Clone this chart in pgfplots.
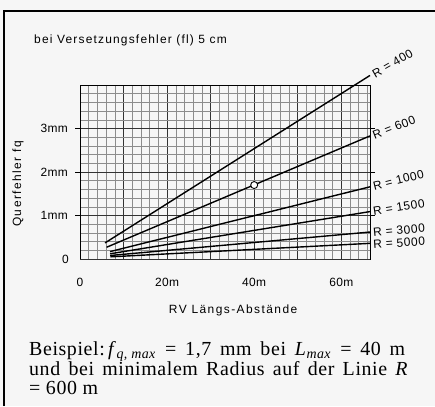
\documentclass[border=0pt]{standalone}
\usepackage{fontspec}
\setmainfont{Liberation Serif}
\newfontfamily\labT[LetterSpace=10]{Liberation Sans}
\newfontfamily\labX[LetterSpace=12]{Liberation Sans}
\newfontfamily\labK[LetterSpace=3]{Liberation Sans}
\newfontfamily\labR[LetterSpace=5]{Liberation Sans}
\newfontfamily\capf[LetterSpace=3]{Liberation Serif}
\usepackage{pgfplots}
\pgfplotsset{compat=1.18}
\definecolor{bg}{RGB}{246,246,246}
\newcommand{\titlefont}{\labT\fontsize{12}{14}\selectfont}
\newcommand{\axfont}{\labX\fontsize{12}{14}\selectfont}
\newcommand{\tkfont}{\labK\fontsize{12}{14}\selectfont}
\newcommand{\rfont}{\labR\fontsize{12}{14}\selectfont}
\newcommand{\capfont}{\capf\fontsize{20}{21}\selectfont}
\begin{document}
\begin{tikzpicture}[x=1bp,y=1bp]
\useasboundingbox (0,0) rectangle (435,406);
\fill[bg] (0,0) rectangle (435,406);
\draw[line width=1.2bp] (4,0) -- (4,395) -- (435,395);
\node[anchor=base west, font=\titlefont, inner sep=0pt] at (34,362.5) {bei Versetzungsfehler (fl) 5 cm};
\begin{axis}[
  at={(80bp,147bp)}, anchor=south west, scale only axis,
  width=290bp, height=174bp,
  xmin=0, xmax=66.6, ymin=0, ymax=4,
  clip=false,
  axis line style={line width=0.8bp},
  xtick={0,10,...,60}, xticklabels={0,,20m,,40m,,60m},
  ytick={1,2,3}, yticklabels={1mm,2mm,3mm},
  extra y ticks={0}, extra y tick labels={0},
  extra y tick style={major tick length=0pt, yticklabel style={xshift=-4bp}},
  minor xtick={2,4,...,66}, minor ytick={0.2,0.4,...,3.9},
  grid=both,
  major grid style={black!80, line width=0.8bp},
  minor grid style={black!45, line width=0.5bp},
  tick align=outside, major tick length=5bp, minor tick length=0pt,
  xtick style={draw=none},
  ytick style={black, line width=0.8bp},
  ticklabel style={font=\tkfont},
  xticklabel style={anchor=center, yshift=-18bp},
  yticklabel style={anchor=east, inner sep=0pt, xshift=-7bp},
  xlabel={RV Längs-Abstände},
  xlabel style={font=\axfont, at={(axis description cs:0.528,0)}, anchor=center, yshift=-51bp},
  ylabel={Querfehler fq},
  ylabel style={font=\axfont, at={(axis description cs:-0.214,0.431)}, anchor=center},
]
\addplot[black, line width=1.4bp] coordinates {(5.75,0.37) (66.6,4.22)};
\addplot[black, line width=1.4bp] coordinates {(6.1,0.27) (66.6,2.83)};
\addplot[black, line width=1.4bp] coordinates {(6.9,0.17) (66.6,1.66)};
\addplot[black, line width=1.4bp] coordinates {(6.9,0.12) (66.6,1.09)};
\addplot[black, line width=1.4bp] coordinates {(6.9,0.08) (66.6,0.62)};
\addplot[black, line width=1.4bp] coordinates {(7.0,0.05) (66.6,0.36)};
\addplot[only marks, mark=*, mark size=3.5bp, mark options={fill=white, draw=black, line width=0.9bp}] coordinates {(40,1.7)};
\node[anchor=west, rotate=30, font=\rfont, inner sep=0pt] at (axis cs:67.3,4.24) {R = 400};
\node[anchor=west, rotate=21, font=\rfont, inner sep=0pt] at (axis cs:67.3,2.84) {R = 600};
\node[anchor=west, rotate=14, font=\rfont, inner sep=0pt] at (axis cs:67.3,1.67) {R = 1000};
\node[anchor=west, rotate=9, font=\rfont, inner sep=0pt] at (axis cs:67.3,1.09) {R = 1500};
\node[anchor=west, rotate=5.5, font=\rfont, inner sep=0pt] at (axis cs:67.3,0.6) {R = 3000};
\node[anchor=west, rotate=4, font=\rfont, inner sep=0pt] at (axis cs:67.3,0.33) {R = 5000};
\end{axis}
\node[anchor=base west, inner sep=0pt, font=\capfont] at (29,51) {\makebox[376bp][s]{Beispiel:\,\textit{f}\textsubscript{\textit{q, max}} = 1,7 mm bei \textit{L}\textsubscript{\textit{max}} = 40 m}};
\node[anchor=base west, inner sep=0pt, font=\capfont] at (29,31) {\makebox[379bp][s]{und bei minimalem Radius auf der Linie \textit{R}}};
\node[anchor=base west, inner sep=0pt, font=\capfont] at (29,12) {= 600 m};
\end{tikzpicture}
\end{document}
